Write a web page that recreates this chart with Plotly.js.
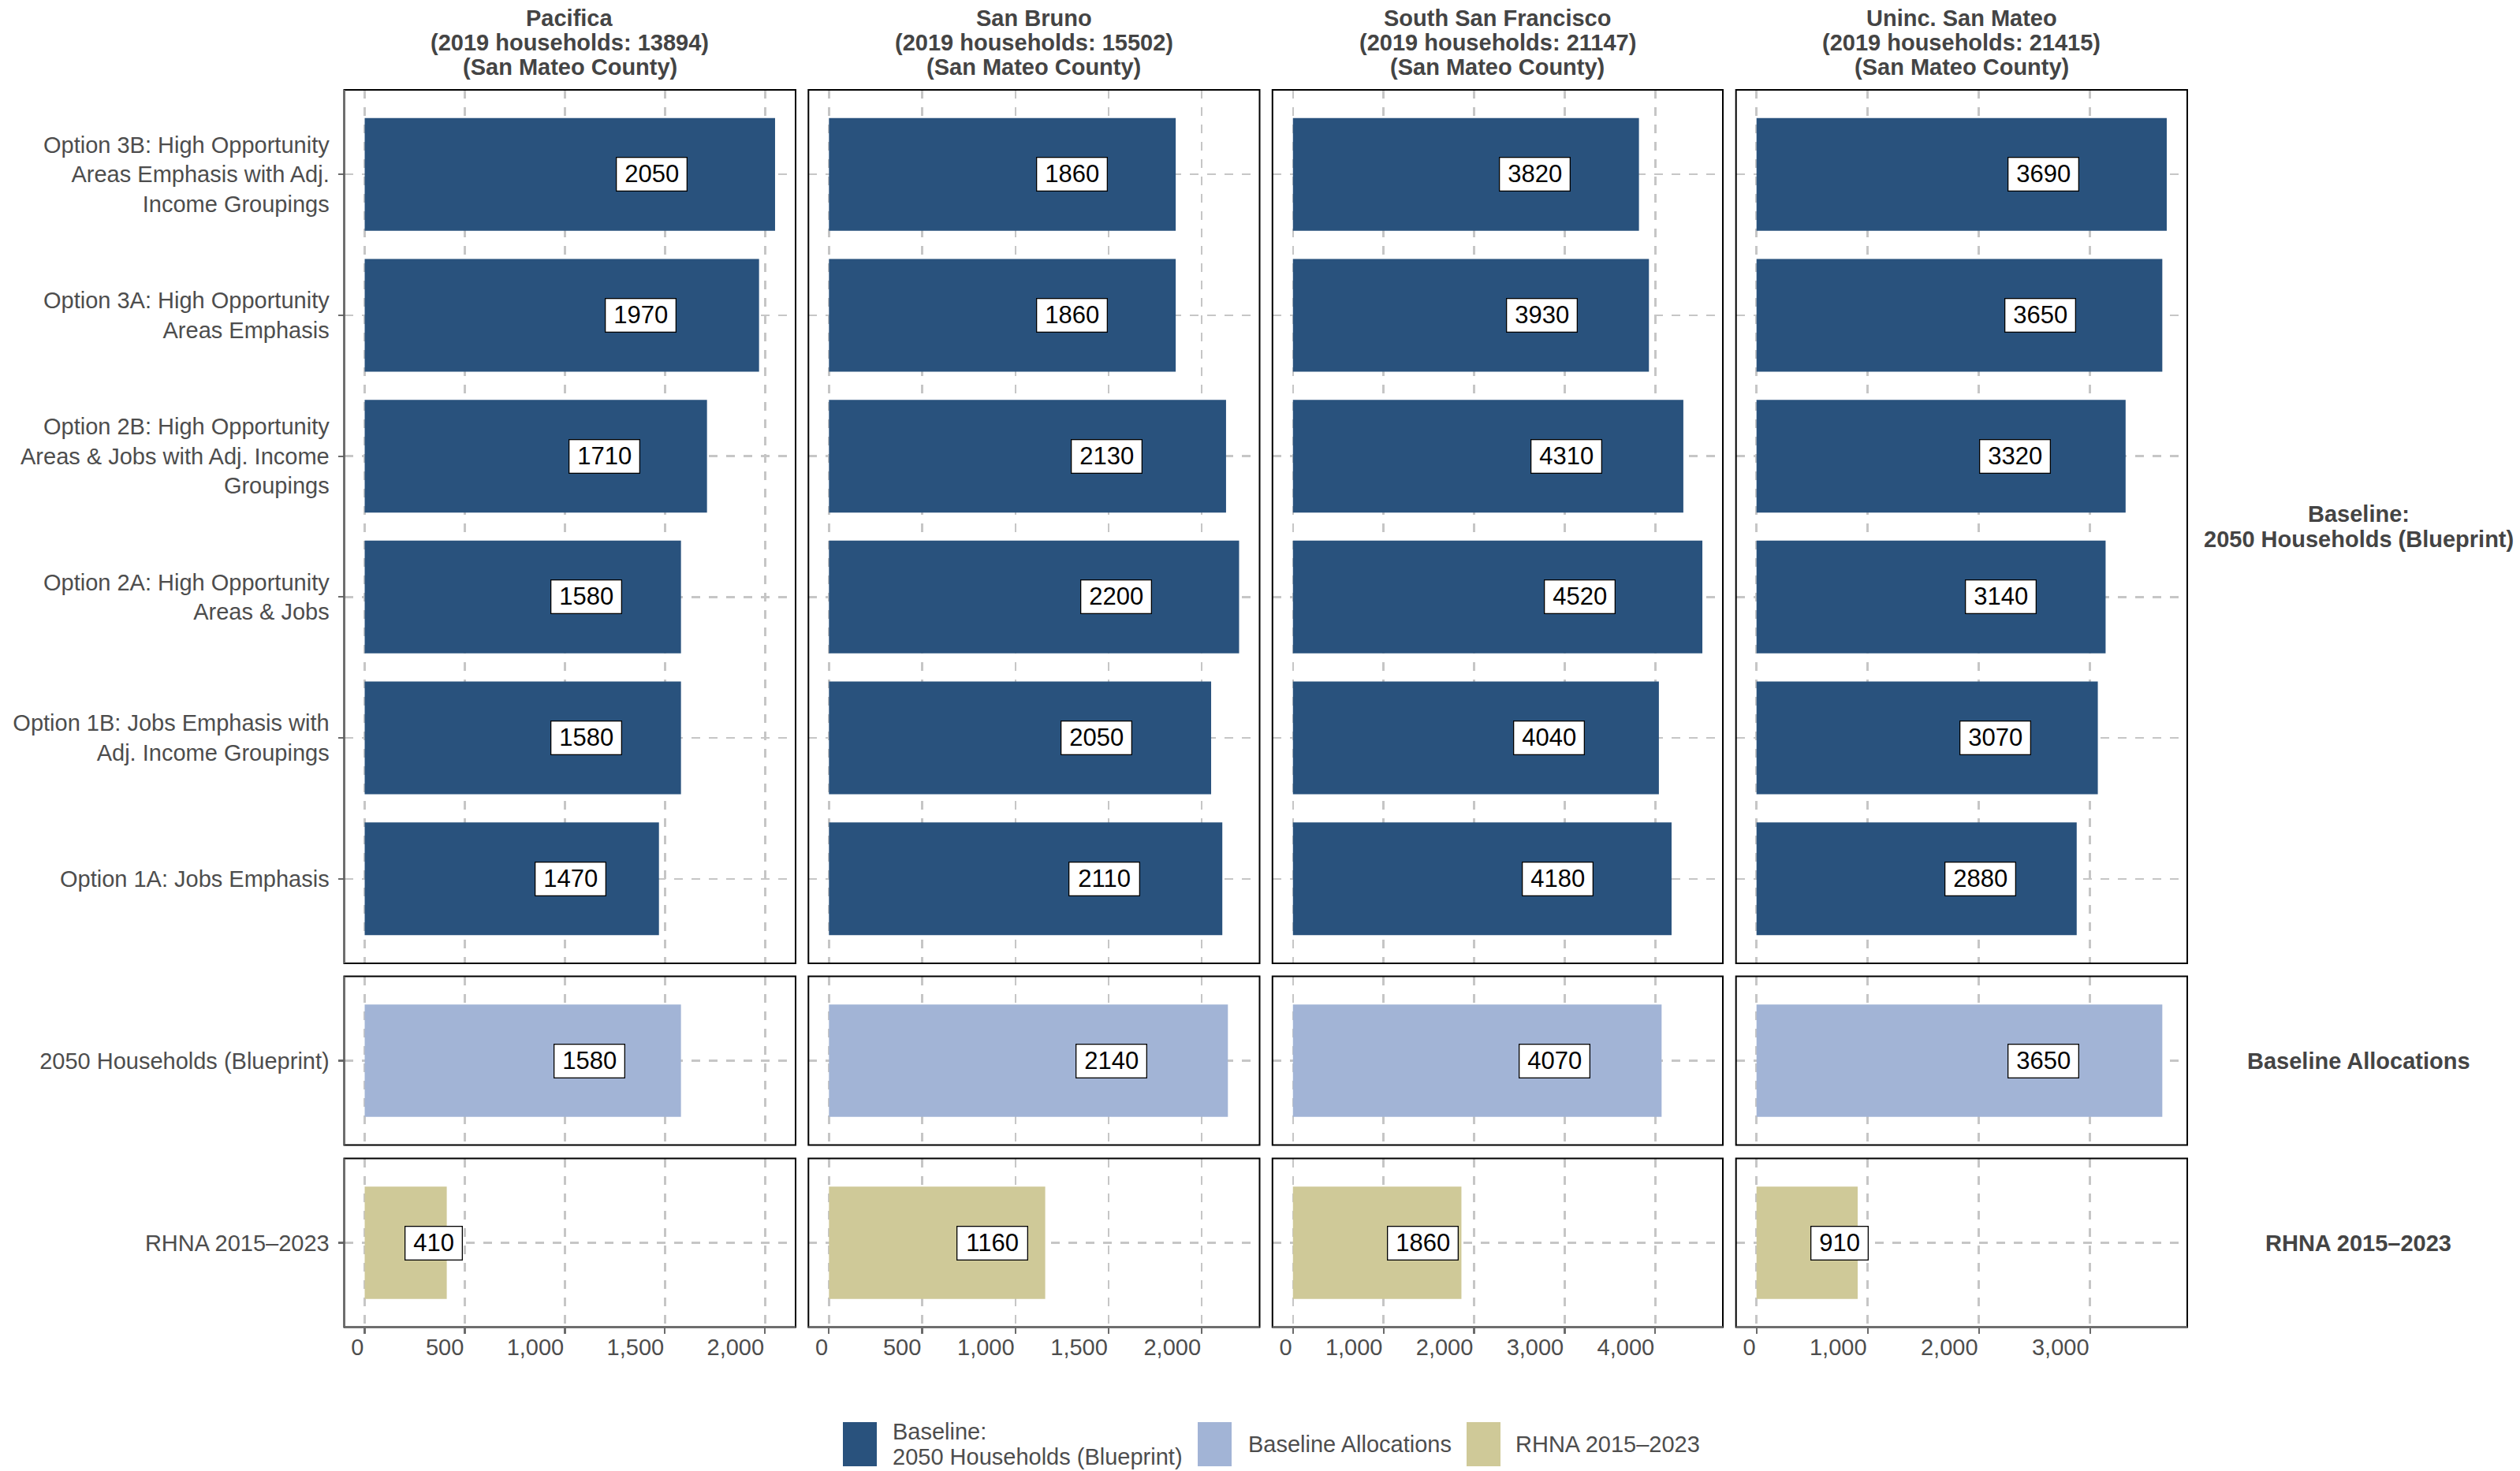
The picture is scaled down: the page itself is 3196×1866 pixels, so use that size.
<!DOCTYPE html>
<html>
<head>
<meta charset="utf-8">
<script src="https://cdn.plot.ly/plotly-3.0.1.min.js"></script>
<style>
html,body{margin:0;padding:0;background:#ffffff;}
#chart{width:3196px;height:1866px;}
</style>
</head>
<body>
<div id="chart"></div>
<script>
// ---------------- data ----------------
const cities = ["Pacifica", "San Bruno", "South San Francisco", "Uninc. San Mateo"];
const households2019 = [13894, 15502, 21147, 21415];
const countyName = "San Mateo County";

const optionCategories = [
  "Option 3B: High Opportunity<br>Areas Emphasis with Adj.<br>Income Groupings",
  "Option 3A: High Opportunity<br>Areas Emphasis",
  "Option 2B: High Opportunity<br>Areas & Jobs with Adj. Income<br>Groupings",
  "Option 2A: High Opportunity<br>Areas & Jobs",
  "Option 1B: Jobs Emphasis with<br>Adj. Income Groupings",
  "Option 1A: Jobs Emphasis"
];
const blueprintCategory = ["2050 Households (Blueprint)"];
const rhnaCategory = ["RHNA 2015–2023"];

// values per city: [Pacifica, San Bruno, South San Francisco, Uninc. San Mateo]
const option3B = [2050, 1860, 3820, 3690];
const option3A = [1970, 1860, 3930, 3650];
const option2B = [1710, 2130, 4310, 3320];
const option2A = [1580, 2200, 4520, 3140];
const option1B = [1580, 2050, 4040, 3070];
const option1A = [1470, 2110, 4180, 2880];
const blueprint2050 = [1580, 2140, 4070, 3650];
const rhna20152023 = [410, 1160, 1860, 910];

const xTickStep = [500, 500, 1000, 1000];

const rowNames = ["Baseline:<br>2050 Households (Blueprint)", "Baseline Allocations", "RHNA 2015–2023"];
const legendNames = ["Baseline:<br>2050 Households (Blueprint)", "Baseline Allocations", "RHNA 2015–2023"];

// ---------------- styling / layout ----------------
const W = 3196, H = 1866;
const FONT = "'Liberation Sans', Arial, Helvetica, sans-serif";
const colors = ["#29527d", "#a2b4d6", "#cfc998"];
const gridColor = "#c6c6c6";
const tickTextColor = "#4d4d4d";
const stripColor = "#444444";
const axisGray = "#6b6b6b";

const colPx = [[436.5, 1009], [1025.3, 1597.5], [1613.8, 2185], [2201.7, 2774]];
const rowPx = [[114, 1222], [1238.6, 1452.5], [1469.6, 1683.5]];
const px = v => v / W;
const py = v => 1 - v / H;

const rows = [
  { cats: optionCategories, series: [option3B, option3A, option2B, option2A, option1B, option1A] },
  { cats: blueprintCategory, series: [blueprint2050] },
  { cats: rhnaCategory, series: [rhna20152023] }
];

// per-column maximum for free x scales
const colMax = cities.map((_, c) => {
  let m = 0;
  rows.forEach(r => r.series.forEach(s => { if (s[c] > m) m = s[c]; }));
  return m;
});

const traces = [];
const layout = {
  width: W, height: H,
  margin: { l: 0, r: 0, t: 0, b: 0 },
  paper_bgcolor: "#ffffff",
  plot_bgcolor: "#ffffff",
  font: { family: FONT, size: 29, color: tickTextColor },
  showlegend: false,
  bargap: 0.2,
  annotations: [],
  shapes: []
};

rows.forEach((row, r) => {
  cities.forEach((city, c) => {
    const idx = r * 4 + c + 1;
    const xs = row.series.map(s => s[c]);
    traces.push({
      type: "bar",
      orientation: "h",
      x: xs,
      y: row.cats,
      xaxis: "x" + idx,
      yaxis: "y" + idx,
      marker: { color: colors[r], line: { width: 0 } },
      width: 0.8,
      hoverinfo: "x+y",
      name: legendNames[r]
    });
    const n = row.cats.length;
    const m = colMax[c];
    layout["xaxis" + idx] = {
      domain: [px(colPx[c][0]), px(colPx[c][1])],
      anchor: "y" + idx,
      range: [-0.05 * m, 1.05 * m],
      tick0: 0,
      dtick: xTickStep[c],
      tickformat: ",d",
      showgrid: true,
      gridcolor: gridColor,
      gridwidth: 2.5,
      griddash: "11px,11px",
      zeroline: false,
      showline: false,
      showticklabels: r === 2,
      ticks: r === 2 ? "outside" : "",
      ticklen: 7,
      tickwidth: 2.3,
      tickcolor: axisGray,
      ticklabelposition: "outside left",
      tickfont: { family: FONT, size: 29, color: tickTextColor },
      fixedrange: true
    };
    layout["yaxis" + idx] = {
      domain: [py(rowPx[r][1]), py(rowPx[r][0])],
      anchor: "x" + idx,
      type: "category",
      categoryorder: "array",
      categoryarray: row.cats,
      range: [n - 0.4, -0.6],
      showgrid: true,
      gridcolor: gridColor,
      gridwidth: 2.5,
      griddash: "11px,11px",
      zeroline: false,
      showline: false,
      showticklabels: c === 0,
      ticks: c === 0 ? "outside" : "",
      ticklen: 7,
      tickwidth: 2.3,
      tickcolor: axisGray,
      ticklabelstandoff: 5,
      tickfont: { family: FONT, size: 29, color: tickTextColor },
      fixedrange: true
    };

    // value labels
    xs.forEach((v, i) => {
      const digits = String(v).length;
      layout.annotations.push({
        xref: "x" + idx, yref: "y" + idx,
        x: 0.7 * v, y: row.cats[i],
        xshift: r === 2 ? 15 : (r === 1 ? 4 : 0),
        text: String(v),
        showarrow: false,
        xanchor: "center", yanchor: "middle",
        font: { family: FONT, size: 31, color: "#000000" },
        bgcolor: "#ffffff",
        bordercolor: "#000000",
        borderwidth: 1.3,
        borderpad: 3,
        width: digits * 17.2 + 14,
        height: 35
      });
    });

    // panel border
    layout.shapes.push({
      type: "rect", xref: "x" + idx + " domain", yref: "y" + idx + " domain",
      x0: 0, x1: 1, y0: 0, y1: 1,
      line: { color: "#000000", width: 2 },
      fillcolor: "rgba(0,0,0,0)", layer: "above"
    });
    if (c === 0) {
      layout.shapes.push({
        type: "line", xref: "x" + idx + " domain", yref: "y" + idx + " domain",
        x0: 0, x1: 0, y0: 0, y1: 1,
        line: { color: axisGray, width: 2.4 }, layer: "above"
      });
    }
    if (r === 2) {
      layout.shapes.push({
        type: "line", xref: "x" + idx + " domain", yref: "y" + idx + " domain",
        x0: 0, x1: 1, y0: 0, y1: 0,
        line: { color: axisGray, width: 2.4 }, layer: "above"
      });
    }
  });
});

// strip titles (top)
const stripLineY = [22.8, 53.9, 85];
cities.forEach((city, c) => {
  const lines = [city, "(2019 households: " + households2019[c] + ")", "(" + countyName + ")"];
  const cx = (colPx[c][0] + colPx[c][1]) / 2;
  lines.forEach((t, k) => {
    layout.annotations.push({
      xref: "paper", yref: "paper", x: px(cx), y: py(stripLineY[k]),
      text: "<b>" + t + "</b>", showarrow: false,
      xanchor: "center", yanchor: "middle",
      font: { family: FONT, size: 29, color: stripColor }
    });
  });
});

// right strip labels
const rightX = 2991;
rowNames.forEach((name, r) => {
  const parts = name.split("<br>");
  const cy = (rowPx[r][0] + rowPx[r][1]) / 2;
  const lh = 32;
  parts.forEach((t, k) => {
    const yy = cy + (k - (parts.length - 1) / 2) * lh;
    layout.annotations.push({
      xref: "paper", yref: "paper", x: px(rightX), y: py(yy),
      text: "<b>" + t + "</b>", showarrow: false,
      xanchor: "center", yanchor: "middle",
      font: { family: FONT, size: 29, color: stripColor }
    });
  });
});

// legend (drawn manually at bottom)
const legKeys = [[1069, 1112], [1519, 1562], [1860, 1903]];
const legText = [1130, 1581, 1920];
const legTop = 1804, legBot = 1860;
legendNames.forEach((name, i) => {
  layout.shapes.push({
    type: "rect", xref: "paper", yref: "paper",
    x0: px(legKeys[i][0]), x1: px(legKeys[i][1]), y0: py(legBot), y1: py(legTop),
    fillcolor: colors[i], line: { width: 0 }, layer: "above"
  });
  const parts = name.split("<br>");
  const cy = (legTop + legBot) / 2;
  parts.forEach((t, k) => {
    const yy = cy + (k - (parts.length - 1) / 2) * 31.5;
    layout.annotations.push({
      xref: "paper", yref: "paper", x: px(legText[i]), y: py(yy),
      text: t, showarrow: false,
      xanchor: "left", yanchor: "middle",
      font: { family: FONT, size: 29, color: tickTextColor }
    });
  });
});

Plotly.newPlot("chart", traces, layout, { staticPlot: true, displayModeBar: false });
</script>
</body>
</html>
